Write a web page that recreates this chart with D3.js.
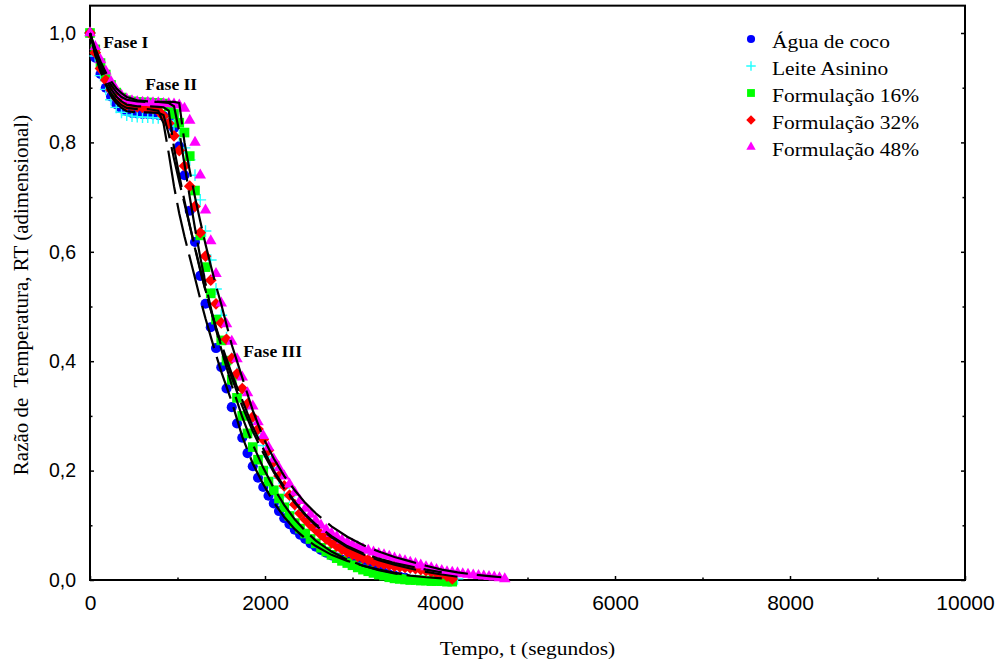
<!DOCTYPE html>
<html>
<head>
<meta charset="utf-8">
<script src="https://cdn.jsdelivr.net/npm/d3@7"></script>
<style>
  body { margin: 0; background: #fff; }
  svg { display: block; }
</style>
</head>
<body>
<svg id="chart" width="1000" height="662"></svg>
<script>
// Sampling times (s) of the cooling curves
const tempo = [0, 60, 120, 180, 240, 300, 360, 420, 480, 540, 600, 660, 720, 780, 840, 900, 960, 1020, 1080, 1140,
  1200, 1260, 1320, 1380, 1440, 1500, 1560, 1620, 1680, 1740, 1800, 1860, 1920, 1980, 2040, 2100, 2160, 2220, 2280, 2340,
  2400, 2460, 2520, 2580, 2640, 2700, 2760, 2820, 2880, 2940, 3000, 3060, 3120, 3180, 3240, 3300, 3360, 3420, 3480, 3540,
  3600, 3660, 3720, 3780, 3840, 3900, 3960, 4020, 4080, 4140, 4200, 4260, 4320, 4380, 4440, 4500, 4560, 4620, 4680, 4740];

// Measured temperature ratio RT for each product
const aguaCoco = [1.000, 0.955, 0.925, 0.900, 0.884, 0.870, 0.862, 0.857, 0.854, 0.853,
  0.852, 0.852, 0.851, 0.850, 0.848, 0.843, 0.826, 0.793, 0.740, 0.675,
  0.618, 0.556, 0.505, 0.462, 0.424, 0.389, 0.350, 0.316, 0.286, 0.260,
  0.232, 0.208, 0.187, 0.170, 0.154, 0.140, 0.126, 0.113, 0.102, 0.092,
  0.083, 0.075, 0.067, 0.061, 0.055, 0.050, 0.045, 0.041, 0.037, 0.034,
  0.031, 0.028, 0.025, 0.022, 0.019, 0.016, 0.013, 0.010, 0.008, 0.006, 0.004];

const leiteAsinino = [1.000, 0.958, 0.922, 0.897, 0.878, 0.864, 0.855, 0.850, 0.848, 0.847,
  0.846, 0.846, 0.845, 0.845, 0.844, 0.840, 0.830, 0.812, 0.790, 0.768,
  0.740, 0.695, 0.638, 0.585, 0.532, 0.484, 0.443, 0.405, 0.378, 0.349,
  0.320, 0.294, 0.268, 0.246, 0.225, 0.205, 0.186, 0.168, 0.152, 0.137,
  0.124, 0.112, 0.102, 0.092, 0.084, 0.076, 0.069, 0.063, 0.058, 0.053,
  0.049, 0.045, 0.042, 0.039, 0.036, 0.033, 0.031, 0.029, 0.027, 0.025,
  0.023, 0.021, 0.019, 0.017, 0.015, 0.013, 0.011, 0.009, 0.007, 0.004, 0.002];

const formulacao16 = [1.000, 0.970, 0.945, 0.924, 0.905, 0.891, 0.882, 0.877, 0.875, 0.874,
  0.873, 0.873, 0.872, 0.872, 0.871, 0.866, 0.852, 0.836, 0.818, 0.775,
  0.712, 0.630, 0.572, 0.524, 0.476, 0.438, 0.401, 0.366, 0.333, 0.300,
  0.268, 0.243, 0.220, 0.200, 0.180, 0.164, 0.149, 0.133, 0.117, 0.104,
  0.094, 0.085, 0.075, 0.067, 0.059, 0.052, 0.046, 0.040, 0.035, 0.031,
  0.027, 0.023, 0.019, 0.016, 0.013, 0.010, 0.008, 0.005, 0.003, 0.002,
  0.001, 0.000, 0.000, -0.001, -0.001, -0.002, -0.002, -0.002, -0.003, -0.003];

const formulacao32 = [1.000, 0.964, 0.935, 0.914, 0.896, 0.881, 0.872, 0.868, 0.866, 0.865,
  0.864, 0.863, 0.862, 0.858, 0.848, 0.835, 0.812, 0.785, 0.757, 0.720,
  0.683, 0.635, 0.592, 0.548, 0.505, 0.470, 0.440, 0.405, 0.377, 0.350,
  0.322, 0.298, 0.276, 0.257, 0.237, 0.216, 0.190, 0.172, 0.155, 0.138,
  0.122, 0.111, 0.101, 0.092, 0.083, 0.075, 0.068, 0.062, 0.056, 0.051,
  0.047, 0.043, 0.040, 0.037, 0.034, 0.031, 0.029, 0.027, 0.025, 0.024,
  0.023, 0.022, 0.021, 0.019, 0.017, 0.015, 0.013, 0.011, 0.007, 0.002];

const formulacao48 = [1.000, 0.975, 0.951, 0.930, 0.911, 0.896, 0.886, 0.879, 0.876, 0.874,
  0.873, 0.873, 0.872, 0.872, 0.871, 0.871, 0.870, 0.868, 0.862, 0.840,
  0.800, 0.740, 0.676, 0.620, 0.560, 0.506, 0.468, 0.436, 0.404, 0.371,
  0.342, 0.318, 0.289, 0.264, 0.243, 0.221, 0.205, 0.190, 0.175, 0.160,
  0.145, 0.131, 0.120, 0.109, 0.100, 0.092, 0.085, 0.079, 0.073, 0.069,
  0.065, 0.061, 0.057, 0.054, 0.051, 0.048, 0.046, 0.043, 0.040, 0.037,
  0.035, 0.032, 0.030, 0.027, 0.024, 0.022, 0.019, 0.017, 0.015, 0.014,
  0.013, 0.011, 0.010, 0.009, 0.008, 0.007, 0.006, 0.005, 0.004, 0.002];

// Fitted model curves (three-phase fit), evaluated on a coarser time grid
const modeloTempo = [0, 60, 120, 180, 240, 300, 360, 420, 540, 660, 780, 840, 900, 960, 1020, 1080, 1140, 1200, 1260, 1320,
  1380, 1440, 1500, 1620, 1740, 1860, 1980, 2100, 2220, 2340, 2460, 2580, 2760, 2940, 3120, 3300, 3480, 3660, 3840, 4020,
  4200, 4380, 4560, 4700];

const modeloAgua = [1.000, 0.962, 0.932, 0.908, 0.890, 0.877, 0.868, 0.863, 0.861, 0.861, 0.858, 0.835, 0.780, 0.720, 0.670, 0.628, 0.590, 0.552, 0.514, 0.478,
  0.445, 0.412, 0.381, 0.326, 0.262, 0.213, 0.175, 0.142, 0.115, 0.093, 0.076, 0.062, 0.046, 0.035, 0.026, 0.019, 0.013, 0.008];

const modeloLeite = [1.000, 0.960, 0.930, 0.905, 0.885, 0.872, 0.863, 0.857, 0.855, 0.855, 0.854, 0.850, 0.815, 0.770, 0.728, 0.688, 0.648, 0.608, 0.568, 0.530,
  0.494, 0.460, 0.428, 0.370, 0.318, 0.272, 0.232, 0.197, 0.167, 0.141, 0.119, 0.100, 0.078, 0.060, 0.047, 0.036, 0.028, 0.021, 0.015, 0.010, 0.006];

const modelo16 = [1.000, 0.968, 0.942, 0.922, 0.905, 0.892, 0.883, 0.878, 0.875, 0.874, 0.874, 0.873, 0.872, 0.866, 0.820, 0.760, 0.700, 0.643, 0.590, 0.542,
  0.498, 0.458, 0.422, 0.356, 0.298, 0.248, 0.205, 0.168, 0.137, 0.111, 0.090, 0.072, 0.052, 0.037, 0.026, 0.018, 0.012, 0.008, 0.005, 0.003];

const modelo32 = [1.000, 0.965, 0.937, 0.915, 0.898, 0.884, 0.875, 0.869, 0.866, 0.866, 0.865, 0.864, 0.858, 0.790, 0.740, 0.693, 0.648, 0.606, 0.566, 0.529,
  0.494, 0.462, 0.432, 0.377, 0.329, 0.280, 0.240, 0.200, 0.170, 0.143, 0.120, 0.102, 0.080, 0.062, 0.049, 0.039, 0.031, 0.025, 0.019, 0.014];

const modelo48 = [1.000, 0.972, 0.948, 0.928, 0.912, 0.899, 0.890, 0.883, 0.877, 0.875, 0.874, 0.874, 0.874, 0.874, 0.872, 0.800, 0.748, 0.700, 0.656, 0.614,
  0.575, 0.538, 0.504, 0.430, 0.370, 0.310, 0.260, 0.222, 0.190, 0.164, 0.141, 0.122, 0.098, 0.079, 0.064, 0.052, 0.042, 0.034, 0.026, 0.019,
  0.014, 0.010, 0.007, 0.005];

const nomesSeries = ["Água de coco", "Leite Asinino", "Formulação 16%", "Formulação 32%", "Formulação 48%"];
const coresSeries = ["#0000ff", "#22ffff", "#00ff00", "#ff0000", "#ff00ff"];
const marcadores = ["circle", "plus", "square", "diamond", "triangle"];

const xTicks = [0, 2000, 4000, 6000, 8000, 10000];
const xMinorTicks = [1000, 3000, 5000, 7000, 9000];
const yTicks = [0, 0.2, 0.4, 0.6, 0.8, 1.0];
const yMinorTicks = [0.1, 0.3, 0.5, 0.7, 0.9];
const yTickLabels = ["0,0", "0,2", "0,4", "0,6", "0,8", "1,0"];

// Phase labels, anchored at their text baseline start
const fases = [
  { texto: "Fase I", t: 150, rt: 0.973 },
  { texto: "Fase II", t: 630, rt: 0.896 },
  { texto: "Fase III", t: 1750, rt: 0.408 }
];

const serif = "'Liberation Serif', 'Times New Roman', serif";
const sans = "'Liberation Sans', Arial, sans-serif";

const svg = d3.select("#chart");
const x = d3.scaleLinear().domain([0, 10000]).range([90, 965]);
const y = d3.scaleLinear().domain([0, 1.05]).range([580, 5.65]);

// Frame
svg.append("rect")
  .attr("x", x(0)).attr("y", y(1.05))
  .attr("width", x(10000) - x(0)).attr("height", y(0) - y(1.05))
  .attr("fill", "none").attr("stroke", "#000").attr("stroke-width", 2);

function styleAxis(g) {
  g.select(".domain").remove();
  g.selectAll(".tick line").attr("stroke", "#000").attr("stroke-width", 1.5);
}

// Left axis with labels
svg.append("g").attr("transform", `translate(${x(0)},0)`)
  .call(d3.axisLeft(y).tickValues(yTicks).tickSize(-4).tickPadding(14)
    .tickFormat((d, i) => yTickLabels[i]))
  .call(styleAxis)
  .call(g => g.selectAll("text").attr("font-family", sans).attr("font-size", 19.5).attr("fill", "#000"));
svg.append("g").attr("transform", `translate(${x(0)},0)`)
  .call(d3.axisLeft(y).tickValues(yMinorTicks).tickSize(-2.5).tickFormat(""))
  .call(styleAxis);

// Right axis (mirrored ticks)
svg.append("g").attr("transform", `translate(${x(10000)},0)`)
  .call(d3.axisRight(y).tickValues(yTicks).tickSize(-4).tickFormat(""))
  .call(styleAxis);
svg.append("g").attr("transform", `translate(${x(10000)},0)`)
  .call(d3.axisRight(y).tickValues(yMinorTicks).tickSize(-2.5).tickFormat(""))
  .call(styleAxis);

// Bottom axis with labels
svg.append("g").attr("transform", `translate(0,${y(0)})`)
  .call(d3.axisBottom(x).tickValues(xTicks).tickSize(-4).tickPadding(15).tickFormat(d3.format("d")))
  .call(styleAxis)
  .call(g => g.selectAll("text").attr("font-family", sans).attr("font-size", 21).attr("fill", "#000"));
svg.append("g").attr("transform", `translate(0,${y(0)})`)
  .call(d3.axisBottom(x).tickValues(xMinorTicks).tickSize(-2.5).tickFormat(""))
  .call(styleAxis);

// Marker shapes
function marcador(sel, tipo, s) {
  if (tipo === "circle") {
    sel.append("circle").attr("r", s * 0.48);
  } else if (tipo === "square") {
    sel.append("rect").attr("x", -s * 0.46).attr("y", -s * 0.46).attr("width", s * 0.92).attr("height", s * 0.92);
  } else if (tipo === "diamond") {
    const h = s * 0.56;
    sel.append("path").attr("d", `M0,${-h}L${h},0L0,${h}L${-h},0Z`);
  } else if (tipo === "triangle") {
    sel.append("path").attr("d", d3.symbol(d3.symbolTriangle, Math.sqrt(3) / 4 * (s * 1.1) * (s * 1.1))());
  } else if (tipo === "plus") {
    const h = s * 0.56;
    sel.append("path").attr("d", `M${-h},0H${h}M0,${-h}V${h}`).attr("fill", "none").attr("stroke-width", 1.4);
  }
}

const dadosSeries = [aguaCoco, leiteAsinino, formulacao16, formulacao32, formulacao48];
const modelos = [modeloAgua, modeloLeite, modelo16, modelo32, modelo48];

const plot = svg.append("g");
dadosSeries.forEach((vals, k) => {
  const g = plot.append("g").attr("fill", coresSeries[k]).attr("stroke", marcadores[k] === "plus" ? coresSeries[k] : "none");
  vals.forEach((v, i) => {
    const m = g.append("g").attr("transform", `translate(${x(tempo[i])},${y(v)})`);
    marcador(m, marcadores[k], 10.5);
  });
});

// Fitted curves drawn as long-dash black lines
const linha = d3.line().x(d => x(d[0])).y(d => y(d[1]));
modelos.forEach(vals => {
  plot.append("path")
    .datum(vals.map((v, i) => [modeloTempo[i], v]))
    .attr("d", linha)
    .attr("fill", "none")
    .attr("stroke", "#000")
    .attr("stroke-width", 2.2)
    .attr("stroke-dasharray", "44,9");
});

// Phase annotations
svg.append("g").selectAll("text").data(fases).join("text")
  .attr("x", d => x(d.t)).attr("y", d => y(d.rt))
  .attr("font-family", serif).attr("font-weight", "bold").attr("font-size", 17.5)
  .attr("fill", "#000")
  .text(d => d.texto);

// Legend
const legenda = svg.append("g");
nomesSeries.forEach((nome, k) => {
  const cy = 39 + k * 27;
  const m = legenda.append("g").attr("transform", `translate(751,${cy})`)
    .attr("fill", coresSeries[k]).attr("stroke", marcadores[k] === "plus" ? coresSeries[k] : "none");
  marcador(m, marcadores[k], 8.5);
  legenda.append("text")
    .attr("transform", `translate(772,${cy + 9}) scale(1.1,1)`)
    .attr("font-family", serif).attr("font-size", 19.5).attr("fill", "#000")
    .text(nome);
});

// Axis titles
svg.append("text")
  .attr("transform", `translate(${(x(0) + x(10000)) / 2},655) scale(1.1,1)`)
  .attr("text-anchor", "middle")
  .attr("font-family", serif).attr("font-size", 19.5).attr("fill", "#000")
  .text("Tempo, t (segundos)");

svg.append("text")
  .attr("transform", "translate(28,295) rotate(-90)")
  .attr("text-anchor", "middle")
  .style("white-space", "pre")
  .attr("font-family", serif).attr("font-size", 21).attr("fill", "#000")
  .text("Razão de  Temperatura, RT (adimensional)");
</script>
</body>
</html>
